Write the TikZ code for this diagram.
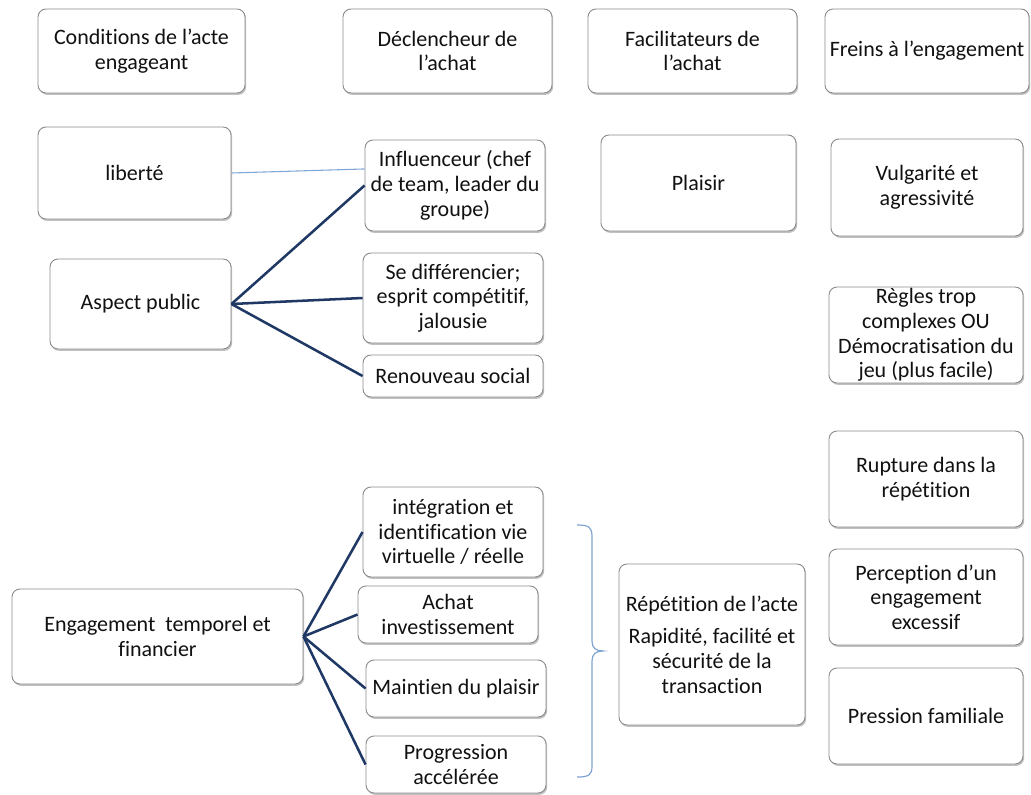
\documentclass[tikz,border=0pt]{standalone}
\usepackage{fontspec}
\setmainfont{Carlito}[RawFeature={-liga;-clig;-calt;-dlig}]
\usetikzlibrary{shadows,calc}
\definecolor{navy}{HTML}{1F3864}
\definecolor{lightline}{HTML}{7EA6D6}
\definecolor{bracecol}{HTML}{7FA3D3}
\definecolor{boxborder}{HTML}{8C8C8C}
\definecolor{txt}{HTML}{111111}
\tikzset{
  box/.style={draw=boxborder, line width=0.7pt, rounded corners=6pt, fill=white,
    align=center, inner sep=1pt, text=txt,
    font=\fontsize{16.5pt}{18.5pt}\selectfont,
    drop shadow={shadow xshift=0.9pt, shadow yshift=-1.4pt, fill=black!45, opacity=0.55}},
  link/.style={draw=navy, line width=1.9pt},
  thinlink/.style={draw=lightline, line width=0.8pt},
  bracepath/.style={draw=bracecol, line width=0.9pt}
}
\newcommand\bx[6]{\node[box, minimum width=#4*0.75pt, minimum height=#5*0.75pt] (#1) at (#2,#3) {#6};}
\begin{document}
\begin{tikzpicture}[x=0.75pt, y=-0.75pt]
\useasboundingbox (0,0) rectangle (1031,795);
% headers
\bx{cond}{141.5}{51}{207}{84}{Conditions de l’acte\\engageant}
\bx{decl}{447.5}{51}{209}{84}{Déclencheur de\\l’achat}
\bx{facil}{692.5}{51}{209}{84}{Facilitateurs de\\l’achat}
\bx{freins}{927}{51}{204}{84}{Freins à l’engagement}
% column 1
\bx{lib}{134.5}{173}{193}{92}{liberté}
\bx{asp}{140.5}{304}{181}{90}{Aspect public}
\bx{engag}{157.5}{636.5}{291}{95}{Engagement~ temporel et\\financier}
% column 2
\bx{infl}{455}{185.5}{180}{91}{Influenceur (chef\\de team, leader du\\groupe)}
\bx{sediff}{453}{298}{180}{90}{Se différencier;\\esprit compétitif,\\jalousie}
\bx{renouv}{453}{376}{180}{42}{Renouveau social}
\bx{integ}{453}{532}{180}{90}{intégration et\\identification vie\\virtuelle / réelle}
\bx{achat}{448}{614.5}{180}{57}{Achat\\investissement}
\bx{maintien}{456}{688.5}{180}{57}{Maintien du plaisir}
\bx{progr}{456}{764.5}{180}{57}{Progression\\accélérée}
% column 3
\bx{plaisir}{698.5}{183}{195}{96}{Plaisir}
\bx{repet}{712}{644.5}{186}{161}{Répétition de l’acte\\[6pt]Rapidité, facilité et\\sécurité de la\\transaction}
% column 4
\bx{vulg}{927}{187.5}{192}{97}{Vulgarité et\\agressivité}
\bx{regles}{926}{335}{194}{96}{Règles trop\\complexes OU\\Démocratisation du\\jeu (plus facile)}
\bx{rupture}{926}{479}{194}{96}{Rupture dans la\\répétition}
\bx{percep}{926}{597}{194}{96}{Perception d’un\\engagement\\excessif}
\bx{pression}{926}{716}{194}{96}{Pression familiale}
% connectors
\draw[thinlink] (lib.east) -- ($(infl.north west)!0.32!(infl.south west)$);
\draw[link] (asp.east) -- (infl.west);
\draw[link] (asp.east) -- (sediff.west);
\draw[link] (asp.east) -- (renouv.west);
\draw[link] (engag.east) -- (integ.west);
\draw[link] (engag.east) -- (achat.west);
\draw[link] (engag.east) -- (maintien.west);
\draw[link] (engag.east) -- (progr.west);
% brace
\draw[bracepath] (577,525) .. controls (589,525) and (592,527) .. (592,537)
  -- (592,641) .. controls (592,648) and (596,651) .. (603,651)
  .. controls (596,651) and (592,654) .. (592,661)
  -- (592,766) .. controls (592,775) and (589,777) .. (577,777);
\end{tikzpicture}
\end{document}
